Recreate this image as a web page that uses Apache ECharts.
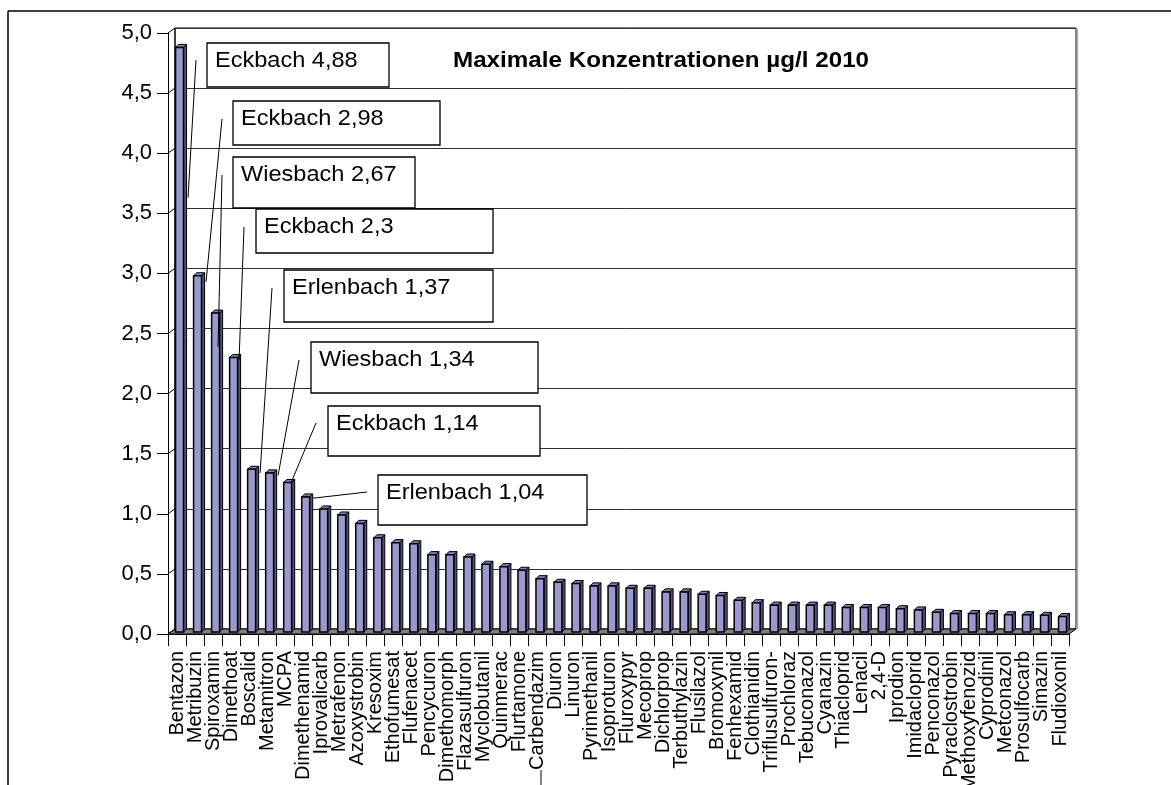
<!DOCTYPE html>
<html>
<head>
<meta charset="utf-8">
<title>Maximale Konzentrationen µg/l 2010</title>
<script src="https://cdn.jsdelivr.net/npm/echarts@6/dist/echarts.min.js"></script>
<style>
html, body { margin: 0; padding: 0; background: #fff; }
#chart { width: 1171px; height: 785px; }
</style>
</head>
<body>
<div id="chart"></div>
<script>
var myChart;

// Wirkstoffe (x-Achse)
var categories = ['Bentazon', 'Metribuzin', 'Spiroxamin', 'Dimethoat', 'Boscalid', 'Metamitron', 'MCPA',
	'Dimethenamid', 'Iprovalicarb', 'Metrafenon', 'Azoxystrobin', 'Kresoxim', 'Ethofumesat', 'Flufenacet',
	'Pencycuron', 'Dimethomorph', 'Flazasulfuron', 'Myclobutanil', 'Quinmerac', 'Flurtamone', 'Carbendazim',
	'Diuron', 'Linuron', 'Pyrimethanil', 'Isoproturon', 'Fluroxypyr', 'Mecoprop', 'Dichlorprop', 'Terbuthylazin',
	'Flusilazol', 'Bromoxynil', 'Fenhexamid', 'Clothianidin', 'Triflusulfuron-', 'Prochloraz', 'Tebuconazol',
	'Cyanazin', 'Thiacloprid', 'Lenacil', '2,4-D', 'Iprodion', 'Imidacloprid', 'Penconazol', 'Pyraclostrobin',
	'Methoxyfenozid', 'Cyprodinil', 'Metconazol', 'Prosulfocarb', 'Simazin', 'Fludioxonil'];

// maximale Konzentration µg/l
var values = [4.88, 2.98, 2.67, 2.30, 1.37, 1.34, 1.26, 1.14, 1.04, 0.99, 0.92, 0.80, 0.76, 0.75,
	0.66, 0.66, 0.64, 0.58, 0.56, 0.53, 0.46, 0.43, 0.42, 0.40, 0.40, 0.38, 0.38, 0.35, 0.35,
	0.33, 0.32, 0.28, 0.26, 0.24, 0.24, 0.24, 0.24, 0.22, 0.22, 0.22, 0.21, 0.20, 0.18, 0.17,
	0.17, 0.17, 0.16, 0.16, 0.155, 0.145];

// y-Achse
var yMin = 0;
var yMax = 5;
var yStep = 0.5;

// Beschriftungen der Spitzenwerte
var annoLabels = ['Eckbach 4,88', 'Eckbach 2,98', 'Wiesbach 2,67', 'Eckbach 2,3',
	'Erlenbach 1,37', 'Wiesbach 1,34', 'Eckbach 1,14', 'Erlenbach 1,04'];
// Balken, auf den die Linie zeigt, und Höhe des Linienendes
var annoBars = [0, 1, 2, 3, 4, 5, 6, 7];
var annoEndValues = [3.63, 2.93, 2.39, 2.28, 1.34, 1.32, 1.26, 1.13];

// Lage der Kästen (Pixel): x1, y1, x2, y2, Linienanfang x, y, Versatz Linienende
var annoLayout = [
	[207, 43, 389, 87, 196, 60, 11],
	[233, 101, 440, 145, 222, 119, 11],
	[233, 157, 415, 208, 222, 175, 5],
	[256, 209, 493, 253, 244, 227, 8],
	[284, 270, 493, 322, 272, 288, 11],
	[311, 342, 538, 393, 299, 360, 11],
	[328, 406, 540, 456, 316, 423, 6],
	[378, 475, 587, 525, 367, 492, 10]
];

var FONT = "'Liberation Sans', Arial, sans-serif";
var DEPTH_X = 7, DEPTH_Y = -5;
var frontColor = '#9999cc', sideColor = '#50508a', topColor = '#7b7bb8';

// 3D-Balken zeichnen
function renderBar(params, api) {
	var idx = api.value(0);
	var top = api.coord([idx, api.value(1)]);
	var base = api.coord([idx, 0]);
	var w = api.size([1, 0])[0];
	var x0 = top[0] - 0.08 * w;
	var x1 = x0 + 0.44 * w;
	var d = 0.17 * w;
	var yt = top[1];
	var yb = base[1] - 2;
	return {
		type : 'group',
		children : [{
			type : 'polygon',
			shape : { points : [[x1, yb], [x1 + d, yb - d], [x1 + d, yt - d], [x1, yt]] },
			style : { fill : sideColor, stroke : '#000', lineWidth : 1 }
		}, {
			type : 'polygon',
			shape : { points : [[x0, yt], [x0 + d, yt - d], [x1 + d, yt - d], [x1, yt]] },
			style : { fill : topColor, stroke : '#000', lineWidth : 1 }
		}, {
			type : 'rect',
			shape : { x : x0, y : yt, width : x1 - x0, height : yb - yt },
			style : { fill : frontColor, stroke : '#000', lineWidth : 1.5 }
		}]
	};
}

function chartSetting() {
	var data = [];
	for (var i = 0; i < values.length; i++) {
		data.push([i, values[i]]);
	}
	var option = {
		animation : false,
		backgroundColor : '#fff',
		grid : [{
			// Rückwand
			left : 168 + DEPTH_X, top : 33 + DEPTH_Y, width : 901, height : 601,
			show : true, backgroundColor : '#fff', borderColor : '#000', borderWidth : 1,
			outerBoundsMode : 'none'
		}, {
			// vordere Achsen
			left : 168, top : 33, width : 901, height : 601,
			outerBoundsMode : 'none'
		}],
		xAxis : [{
			gridIndex : 0, type : 'category', data : categories, show : false
		}, {
			gridIndex : 1, type : 'category', data : categories,
			axisLine : { show : true, lineStyle : { color : '#000', width : 1 } },
			axisTick : { show : true, length : 12, interval : 0, lineStyle : { color : '#000' } },
			axisLabel : {
				interval : 0, rotate : 90, margin : 17,
				fontFamily : FONT, fontSize : 20, color : '#000'
			},
			splitLine : { show : false }
		}],
		yAxis : [{
			gridIndex : 0, type : 'value', min : yMin, max : yMax, interval : yStep,
			axisLine : { show : false }, axisTick : { show : false }, axisLabel : { show : false },
			splitLine : { show : true, lineStyle : { color : '#303030', width : 1 } }
		}, {
			gridIndex : 1, type : 'value', min : yMin, max : yMax, interval : yStep,
			axisLine : { show : true, lineStyle : { color : '#000', width : 1 } },
			axisTick : { show : true, length : 11, lineStyle : { color : '#000' } },
			axisLabel : {
				margin : 16, fontFamily : FONT, fontSize : 22, color : '#000',
				formatter : function(v) {
					return v.toFixed(1).replace('.', ',');
				}
			},
			splitLine : { show : false }
		}],
		series : [{
			type : 'custom',
			xAxisIndex : 1,
			yAxisIndex : 1,
			renderItem : renderBar,
			encode : { x : 0, y : 1 },
			data : data,
			z : 5
		}]
	};
	myChart.setOption(option);
}

// Boden, Seitenwand, Rahmen, Titel und Beschriftungen
function graphicSetting() {
	var g = [];
	var fin = { xAxisIndex : 1, yAxisIndex : 1 };
	var p0 = myChart.convertToPixel(fin, [0, 0]);
	var pN = myChart.convertToPixel(fin, [values.length - 1, 0]);
	var half = (pN[0] - p0[0]) / (values.length - 1) / 2;
	var xl = p0[0] - half, xr = pN[0] + half, yf = p0[1];

	// Boden
	g.push({
		type : 'polygon', z : 3,
		shape : { points : [[xl, yf], [xr, yf], [xr + DEPTH_X, yf + DEPTH_Y], [xl + DEPTH_X, yf + DEPTH_Y]] },
		style : { fill : '#808080', stroke : '#000', lineWidth : 1 }
	});
	// Seitenwand links
	for (var v = yMin; v <= yMax + 1e-9; v += yStep) {
		var p = myChart.convertToPixel(fin, [0, v]);
		g.push({
			type : 'line', z : 3,
			shape : { x1 : xl, y1 : p[1], x2 : xl + DEPTH_X, y2 : p[1] + DEPTH_Y },
			style : { stroke : '#000', lineWidth : 1 }
		});
	}
	g.push({
		type : 'line', z : 3,
		shape : { x1 : xl + DEPTH_X, y1 : yf + DEPTH_Y, x2 : xl + DEPTH_X, y2 : 33 + DEPTH_Y },
		style : { stroke : '#000', lineWidth : 1 }
	});
	// Schatten rechts an der Rückwand
	g.push({
		type : 'line', z : 3,
		shape : { x1 : xr + DEPTH_X + 1.5, y1 : 33 + DEPTH_Y + 1, x2 : xr + DEPTH_X + 1.5, y2 : yf + DEPTH_Y },
		style : { stroke : '#b0b0b0', lineWidth : 1.5 }
	});

	// Rahmen
	g.push({ type : 'line', z : 1, shape : { x1 : 8, y1 : 11, x2 : 1171, y2 : 11 }, style : { stroke : '#000', lineWidth : 1.5 } });
	g.push({ type : 'line', z : 1, shape : { x1 : 8, y1 : 11, x2 : 8, y2 : 785 }, style : { stroke : '#000', lineWidth : 1.5 } });
	g.push({ type : 'line', z : 1, shape : { x1 : 541, y1 : 770, x2 : 541, y2 : 785 }, style : { stroke : '#000', lineWidth : 1 } });

	// Titel
	g.push({
		type : 'text', z : 20, x : 453, y : 61, scaleX : 1.1,
		style : {
			text : 'Maximale Konzentrationen µg/l 2010', fill : '#000',
			font : 'bold 22px ' + FONT, textAlign : 'left', textVerticalAlign : 'middle'
		}
	});

	// Kästen mit Linien
	for (var i = 0; i < annoLabels.length; i++) {
		var L = annoLayout[i];
		var end = myChart.convertToPixel(fin, [annoBars[i], annoEndValues[i]]);
		g.push({
			type : 'line', z : 20,
			shape : { x1 : L[4], y1 : L[5], x2 : end[0] + L[6], y2 : end[1] },
			style : { stroke : '#000', lineWidth : 1 }
		});
		g.push({
			type : 'rect', z : 20,
			shape : { x : L[0], y : L[1], width : L[2] - L[0], height : L[3] - L[1] },
			style : { fill : '#fff', stroke : '#000', lineWidth : 1.3 }
		});
		g.push({
			type : 'text', z : 21, x : L[0] + 8, y : L[1] + 17.5, scaleX : 1.07,
			style : {
				text : annoLabels[i], fill : '#000',
				font : '22px ' + FONT, textAlign : 'left', textVerticalAlign : 'middle'
			}
		});
	}
	myChart.setOption({ graphic : g });
}

function eChartInit() {
	myChart = echarts.init(document.getElementById('chart'), null, { renderer : 'canvas' });
}

eChartInit();
chartSetting();
graphicSetting();
</script>
</body>
</html>
